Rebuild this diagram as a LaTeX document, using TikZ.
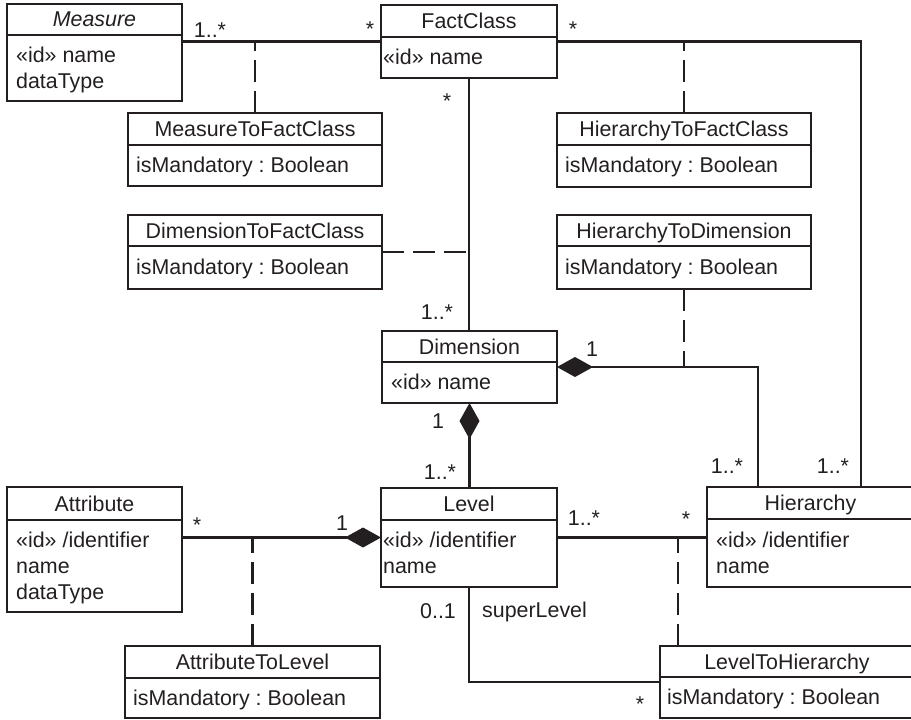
\documentclass[tikz,border=0pt]{standalone}
\usepackage{fontspec}
\setmainfont{Liberation Sans}
\usetikzlibrary{arrows.meta}
\definecolor{umlink}{RGB}{35,31,32}
\frenchspacing
\tikzset{compd/.tip={Diamond[length=36pt,width=20pt]}}
\newcommand{\umlbox}[7]{%
  \node[boxst, minimum width={(#4-#2)*1pt}, minimum height={(#5-#3)*1pt}, anchor=north west] (#1) at (#2,#3) {};
  \draw[conn] (#2,#6) -- (#4,#6);
  \node[txt, anchor=base] (#1-t) at ({(#2+#4)/2},{(#3+#6)/2+7.5}) {#7};
}
\newcommand{\umlattrs}[4]{%
  \foreach \ln [count=\i] in {#4} {
    \node[txt, anchor=base west] (#1-a\i) at (#2,{#3+(\i-1)*26}) {\ln};
  }
}
\begin{document}
\begin{tikzpicture}[x=1pt,y=-1pt,
  boxst/.style={draw=umlink, line width=2.2pt, inner sep=0pt, outer sep=0pt},
  txt/.style={inner sep=0pt, text=umlink, font=\fontsize{21.4pt}{26pt}\selectfont},
  lbl/.style={txt, anchor=base},
  conn/.style={draw=umlink, line width=2.2pt},
  dashedst/.style={conn, dash pattern=on 22pt off 9pt}
]
\useasboundingbox (0,0) rectangle (911,720);

% classes
\umlbox{measure}{7}{4}{182}{101}{35}{\itshape Measure}
\umlattrs{measure}{16}{62}{«id» name,dataType}
\umlbox{fact}{381}{5}{557}{78}{37}{FactClass}
\umlattrs{fact}{383}{64.5}{«id» name}
\umlbox{m2f}{128}{113}{382}{186}{145}{MeasureToFactClass}
\umlattrs{m2f}{136}{172.5}{isMandatory : Boolean}
\umlbox{h2f}{557}{113}{811}{187}{145}{HierarchyToFactClass}
\umlattrs{h2f}{565}{172.5}{isMandatory : Boolean}
\umlbox{d2f}{128}{215}{382}{289}{246}{DimensionToFactClass}
\umlattrs{d2f}{136}{274.5}{isMandatory : Boolean}
\umlbox{h2d}{557}{215}{811}{289}{246}{HierarchyToDimension}
\umlattrs{h2d}{565}{274.5}{isMandatory : Boolean}
\umlbox{dim}{382}{331}{557}{403}{362}{Dimension}
\umlattrs{dim}{391}{389.5}{«id» name}
\umlbox{att}{7}{487}{182}{612}{520}{Attribute}
\umlattrs{att}{16}{547}{«id» /identifier,name,dataType}
\umlbox{level}{381}{488}{557}{587}{520}{Level}
\umlattrs{level}{383}{547.5}{«id» /identifier,name}
\umlbox{hier}{707}{487}{914}{587}{519}{Hierarchy}
\umlattrs{hier}{716}{547}{«id» /identifier,name}
\umlbox{a2l}{125}{646}{380}{718}{678}{AttributeToLevel}
\umlattrs{a2l}{133}{705}{isMandatory : Boolean}
\umlbox{l2h}{660}{646}{914}{718}{677}{LevelToHierarchy}
\umlattrs{l2h}{667}{704.5}{isMandatory : Boolean}

% connectors
\coordinate (fr) at (861,0);
\coordinate (hd) at (758,0);
\coordinate (lhd) at (678,0);
\coordinate (sl) at (0,682);
\draw[conn] (measure.east |- fact.west) -- (fact.west);
\draw[dashedst] (m2f.north) -- (m2f.north |- fact.west);
\draw[conn] (fact.east) -| (fr |- hier.north);
\draw[dashedst] (h2f.north) -- (h2f.north |- fact.east);
\draw[conn] (fact.south) -- (fact.south |- dim.north);
\draw[dashedst] (d2f.east) -- (d2f.east -| fact.south);
\draw[conn, compd-] (dim.east) -| (hd |- hier.north);
\draw[dashedst] (h2d.south) -- (h2d.south |- dim.east);
\draw[conn, compd-] (dim.south) -- (dim.south |- level.north);
\draw[conn, -compd] (att.east |- level.west) -- (level.west);
\draw[dashedst] (a2l.north) -- (a2l.north |- level.west);
\draw[conn] (level.east) -- (level.east -| hier.west);
\draw[dashedst] (lhd |- l2h.north) -- (lhd |- level.east);
\draw[conn] (level.south) |- (sl -| l2h.west);

% multiplicities
\node[lbl] (m1) at (210,37) {1..*};
\node[lbl] (m2) at (370,36) {*};
\node[lbl] (m3) at (447,108) {*};
\node[lbl] (m4) at (573,36) {*};
\node[lbl] (m5) at (437,319) {1..*};
\node[lbl] (m6) at (592,356) {1};
\node[lbl] (m7) at (438,428) {1};
\node[lbl] (m8) at (440,479) {1..*};
\node[lbl] (m9) at (727,473) {1..*};
\node[lbl] (m10) at (833,473) {1..*};
\node[lbl] (m11) at (197,532) {*};
\node[lbl] (m12) at (342,530) {1};
\node[lbl] (m13) at (584,525) {1..*};
\node[lbl] (m14) at (686,526) {*};
\node[lbl] (m15) at (438,618) {0..1};
\node[txt, anchor=base west] (m16) at (482,617) {superLevel};
\node[lbl] (m17) at (640,711) {*};
\end{tikzpicture}
\end{document}
